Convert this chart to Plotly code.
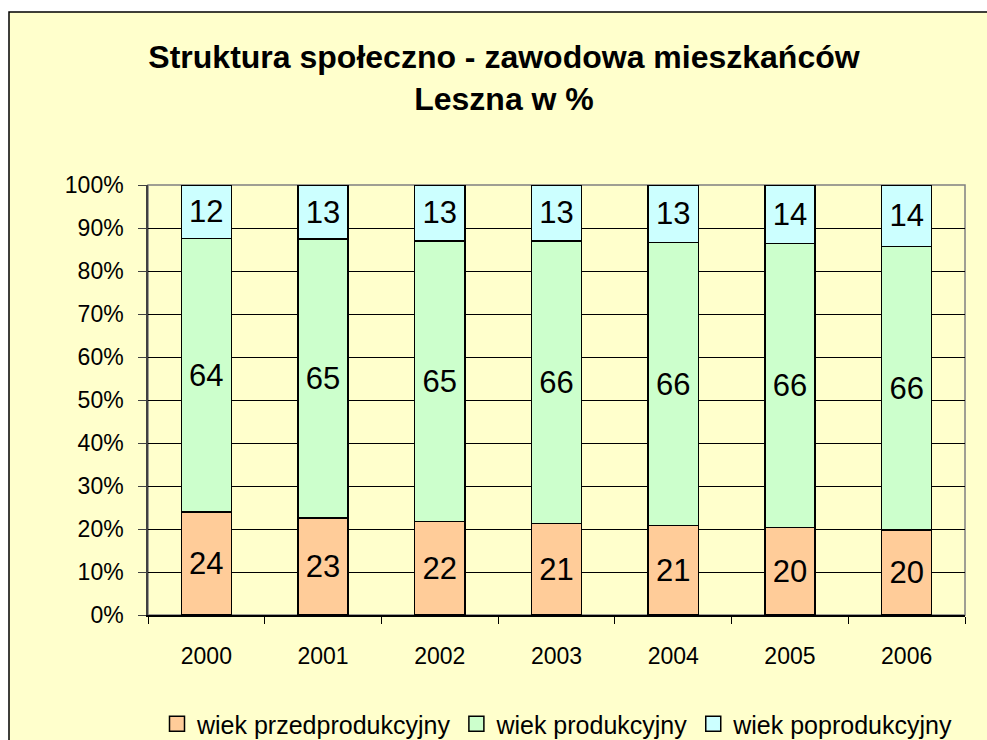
import plotly.graph_objects as go

years = ["2000", "2001", "2002", "2003", "2004", "2005", "2006"]
przed = [24.0, 22.6, 21.8, 21.3, 20.8, 20.3, 19.8]
prod = [63.6, 64.8, 65.2, 65.7, 65.8, 66.1, 65.9]
popro = [12.4, 12.6, 13.0, 13.0, 13.4, 13.6, 14.3]
labels_przed = ["24", "23", "22", "21", "21", "20", "20"]
labels_prod = ["64", "65", "65", "66", "66", "66", "66"]
labels_popro = ["12", "13", "13", "13", "13", "14", "14"]
yticks = [0, 10, 20, 30, 40, 50, 60, 70, 80, 90, 100]
series_names = ["wiek przedprodukcyjny", "wiek produkcyjny", "wiek poprodukcyjny"]
series_colors = ["#FFCC99", "#CCFFCC", "#CCFFFF"]

W, H = 987, 740
L, R, T, B = 148, 22, 185, 125
pw, ph = W - L - R, H - T - B

font = "Liberation Sans, Arial, sans-serif"

fig = go.Figure()
for name, vals, labs, col in zip(series_names, [przed, prod, popro],
                                 [labels_przed, labels_prod, labels_popro],
                                 series_colors):
    fig.add_trace(go.Bar(
        x=years, y=vals, name=name, text=labs,
        textposition="inside", insidetextanchor="middle",
        constraintext="none", textangle=0,
        textfont=dict(size=31, color="black", family=font),
        marker=dict(color=col, line=dict(color="black", width=1.5)),
        hoverinfo="skip", showlegend=False,
    ))

# legend entries with larger square symbols
for name, col in zip(series_names, series_colors):
    fig.add_trace(go.Scatter(
        x=[None], y=[None], mode="markers", name=name,
        marker=dict(symbol="square", size=15, color=col,
                    line=dict(color="black", width=1.5)),
        showlegend=True, hoverinfo="skip",
    ))

def px_x(p):
    return (p - L) / pw

def px_y(p):
    return (H - B - p) / ph

fig.update_layout(
    width=W, height=H,
    margin=dict(l=L, r=R, t=T, b=B, autoexpand=False),
    barmode="stack", bargap=0.57,
    paper_bgcolor="white",
    plot_bgcolor="rgba(0,0,0,0)",
    font=dict(family=font, color="black"),
    title=dict(
        text="<b>Struktura społeczno - zawodowa mieszkańców<br>Leszna w %</b>",
        x=504 / W, xanchor="center", xref="container",
        y=1 - 68 / H, yanchor="top", yref="container",
        font=dict(size=32, family=font, color="black"),
    ),
    showlegend=True,
    legend=dict(
        orientation="h", xref="container", yref="container",
        x=157 / W, xanchor="left",
        y=1 - 724 / H, yanchor="middle",
        font=dict(size=25, family=font, color="black"),
        bgcolor="rgba(0,0,0,0)", traceorder="normal",
        itemsizing="trace",
    ),
    shapes=[
        dict(type="rect", xref="paper", yref="paper",
             x0=px_x(9), x1=px_x(1000), y0=px_y(12), y1=px_y(760),
             fillcolor="#FFFFCC", line=dict(color="black", width=1.5),
             layer="below"),
        dict(type="rect", xref="paper", yref="paper",
             x0=0, x1=1, y0=0, y1=1,
             line=dict(color="#808080", width=1.5), layer="below"),
    ],
    yaxis=dict(
        range=[0, 100], tickmode="array", tickvals=yticks,
        ticktext=[f"{v}%" for v in yticks],
        showgrid=True, gridcolor="black", gridwidth=1,
        showline=True, linecolor="#404040", linewidth=1.5,
        ticks="outside", ticklen=8, tickcolor="#404040",
        ticklabelstandoff=10, automargin=False,
        tickfont=dict(size=23, family=font, color="black"),
        zeroline=False, fixedrange=True,
    ),
    xaxis=dict(
        type="category", showgrid=False,
        showline=True, linecolor="black", linewidth=1.5,
        ticks="outside", ticklen=7, tickcolor="black",
        tickson="boundaries", ticklabelstandoff=20, automargin=False,
        tickfont=dict(size=23, family=font, color="black"),
        fixedrange=True,
    ),
)

fig.write_html(
    "out.html",
    config={"displayModeBar": False},
    post_script="document.body.style.margin='0';document.body.style.overflow='hidden';",
)
